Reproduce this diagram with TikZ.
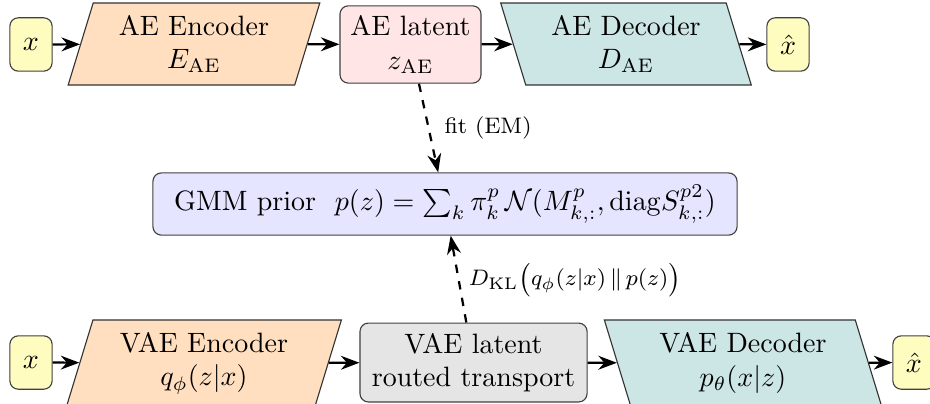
\documentclass[tikz,border=0pt]{standalone}
\usetikzlibrary{shapes.geometric,arrows.meta}

\begin{document}
\begin{tikzpicture}[
    >=Stealth,
    box/.style={draw=black!75, rounded corners=3pt, align=center},
    iobox/.style={box, fill=yellow!25, minimum width=0.53cm, minimum height=0.67cm, inner sep=1pt},
    latbox/.style={box, minimum height=0.97cm, inner sep=2pt},
    netbox/.style={draw=black!80, trapezium, align=center, inner sep=1pt,
                   minimum width=2.88cm, minimum height=1.03cm},
    encbox/.style={netbox, fill=orange!25, trapezium left angle=73, trapezium right angle=107},
    decbox/.style={netbox, fill=teal!20, trapezium left angle=107, trapezium right angle=73},
    flow/.style={->, thick},
    prior/.style={->, thick, dashed}
  ]
      % \draw[help lines](0,-5) grid (12,0);
      \useasboundingbox (0,0) rectangle (11.670,-5.069);

      % autoencoder row
      \draw (0.389,-0.558) node[iobox] (xae) {$x$};
      \draw (2.434,-0.552) node[encbox] (aeenc) {AE Encoder\\$E_{\mathrm{AE}}$};
      \draw (5.151,-0.558) node[latbox, fill=red!10, minimum width=1.77cm] (aelat) {AE latent\\$z_{\mathrm{AE}}$};
      \draw (7.855,-0.552) node[decbox] (aedec) {AE Decoder\\$D_{\mathrm{AE}}$};
      \draw (9.888,-0.558) node[iobox] (xhatae) {$\hat{x}$};

      % prior
      \draw (5.584,-2.560) node[box, fill=blue!10, minimum width=7.33cm, minimum height=0.78cm] (gmm)
        {GMM prior\ \ $p(z)=\sum_k\pi^p_k\,\mathcal{N}(M^p_{k,:},\mathrm{diag}S^{p2}_{k,:})$};

      % vae row
      \draw (0.389,-4.549) node[iobox] (xvae) {$x$};
      \draw (2.560,-4.555) node[encbox, minimum width=3.20cm, minimum height=1.08cm] (vaeenc) {VAE Encoder\\$q_\phi(z|x)$};
      \draw (5.942,-4.549) node[latbox, fill=gray!20, minimum width=2.85cm, minimum height=0.99cm] (vaelat) {VAE latent\\routed transport};
      \draw (9.323,-4.555) node[decbox, minimum width=3.08cm, minimum height=1.08cm] (vaedec) {VAE Decoder\\$p_\theta(x|z)$};
      \draw (11.469,-4.549) node[iobox] (xhatvae) {$\hat{x}$};

      \draw [flow] (xae) -- (aeenc);
      \draw [flow] (aeenc) -- (aelat);
      \draw [flow] (aelat) -- (aedec);
      \draw [flow] (aedec) -- (xhatae);
      \draw [flow] (xvae) -- (vaeenc);
      \draw [flow] (vaeenc) -- (vaelat);
      \draw [flow] (vaelat) -- (vaedec);
      \draw [flow] (vaedec) -- (xhatvae);

      \draw [prior] (aelat) -- (gmm) node [midway,right,xshift=2pt,font=\footnotesize] {fit (EM)};
      \draw [prior] (vaelat) -- (gmm) node [midway,right,font=\footnotesize]
        {$D_{\mathrm{KL}}\bigl(q_\phi(z|x)\,\|\,p(z)\bigr)$};
\end{tikzpicture}
\end{document}
